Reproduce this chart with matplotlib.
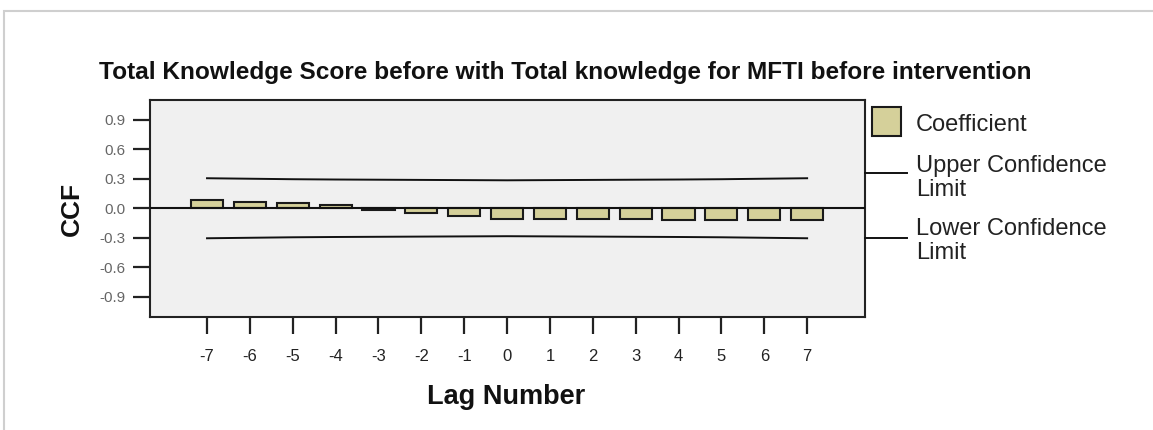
import numpy as np
import matplotlib
matplotlib.use('Agg')
import matplotlib.pyplot as plt
from matplotlib.patches import Rectangle
from matplotlib.lines import Line2D

plt.rcParams['font.family'] = ['Liberation Sans', 'DejaVu Sans']

lags = [-7, -6, -5, -4, -3, -2, -1, 0, 1, 2, 3, 4, 5, 6, 7]
coef = [0.082, 0.068, 0.051, 0.037, -0.017, -0.051, -0.082, -0.110, -0.110,
        -0.112, -0.112, -0.116, -0.116, -0.116, -0.116]
upper = [0.305, 0.300, 0.295, 0.292, 0.290, 0.288, 0.286, 0.284, 0.286,
         0.288, 0.290, 0.292, 0.295, 0.300, 0.305]
lower = [-u for u in upper]
yticks = [0.9, 0.6, 0.3, 0.0, -0.3, -0.6, -0.9]

W, H = 1153, 430
fig = plt.figure(figsize=(W / 100, H / 100), dpi=100)
fig.patch.set_facecolor('white')

# screenshot frame
fig.add_artist(Rectangle((4 / W, -0.1), 1.2, (H - 11) / H + 0.1, transform=fig.transFigure,
                         fill=False, edgecolor='#cfcfcf', lw=1.5))

ax = fig.add_axes([150 / W, 1 - 316.5 / H, 715 / W, 216.5 / H])
ax.set_facecolor('#f0f0f0')

ax.bar(lags, coef, width=0.75, color='#d5d09a', edgecolor='#1a1a1a', linewidth=1.5, zorder=2)
ax.plot(lags, upper, color='#111111', lw=1.4, zorder=3)
ax.plot(lags, lower, color='#111111', lw=1.4, zorder=3)
ax.axhline(0, color='#111111', lw=1.5, zorder=3)

ax.set_xlim(-8.33, 8.35)
ax.set_ylim(-1.1, 1.1)
ax.set_xticks(lags)
ax.set_xticklabels([str(l) for l in lags], fontsize=12, color='#222222')
ax.set_yticks(yticks)
ax.set_yticklabels([f'{t:.1f}' for t in yticks], fontsize=11, color='#666666')
ax.tick_params(axis='both', length=12.5, width=1.6, color='#222222', direction='out')
ax.tick_params(axis='x', pad=11)
ax.tick_params(axis='y', pad=5)
for s in ax.spines.values():
    s.set_color('#222222')
    s.set_linewidth(1.5)

fig.text(72 / W, 1 - 209 / H, 'CCF', rotation=90, ha='center', va='center',
         fontsize=19, fontweight='bold', color='#111111')
fig.text(506 / W, 1 - 397 / H, 'Lag Number', ha='center', va='center',
         fontsize=19.5, fontweight='bold', color='#111111')

fig.text(565 / W, 1 - 73 / H, 'Total Knowledge Score before with Total knowledge for MFTI before intervention',
         ha='center', va='center', fontsize=17.6, fontweight='bold', color='#111111')

# legend drawn beside the axes
def fx(px):
    return px / W

def fy(py):
    return 1 - py / H

fig.add_artist(Rectangle((fx(872), fy(136)), 29 / W, 29 / H, transform=fig.transFigure,
                         facecolor='#d5d09a', edgecolor='#1a1a1a', lw=1.5))
fig.text(fx(916), fy(125), 'Coefficient', ha='left', va='center', fontsize=17, color='#222222')
for y_line, y_txt, label in [(173.3, 178, 'Upper Confidence\nLimit'),
                             (238, 241, 'Lower Confidence\nLimit')]:
    fig.add_artist(Line2D([fx(865), fx(907)], [fy(y_line), fy(y_line)], transform=fig.transFigure,
                          color='#111111', lw=1.4))
    fig.text(fx(916), fy(y_txt), label, ha='left', va='center', fontsize=17, color='#222222',
             linespacing=1.1)

fig.savefig('out.png', dpi=100)
